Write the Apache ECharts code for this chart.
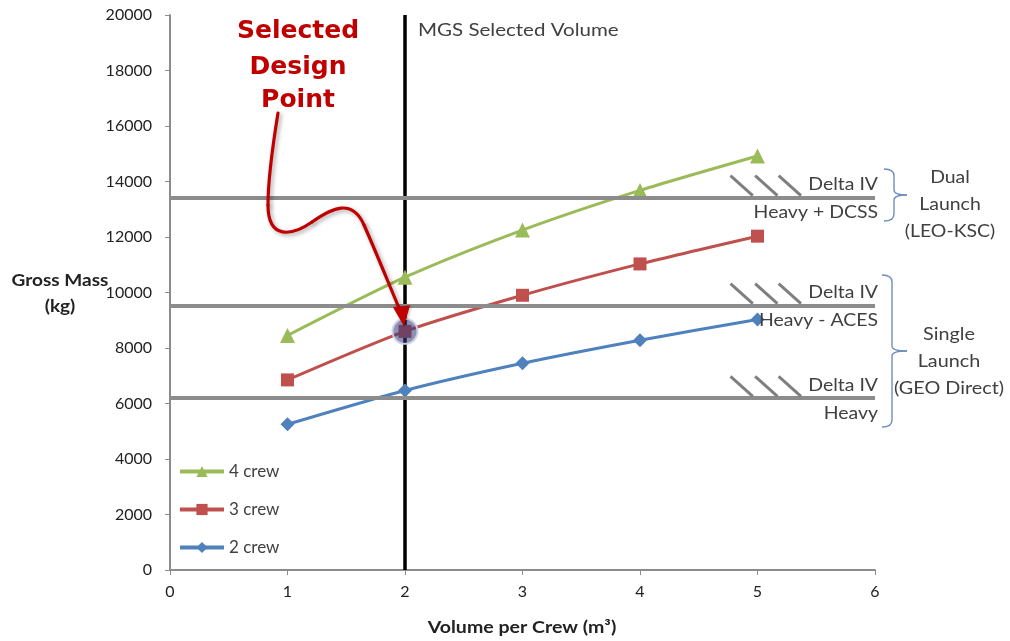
<!DOCTYPE html>
<html>
<head>
<meta charset="utf-8">
<script src="https://cdn.jsdelivr.net/npm/echarts@6/dist/echarts.min.js"></script>
<style>
  html, body { margin: 0; padding: 0; background: #fff; }
  #chart { width: 1010px; height: 641px; }
</style>
</head>
<body>
<div id="chart"></div>
<script>
// Volume per crew member (m³)
const volumes = [1, 2, 3, 4, 5];
// Gross mass (kg) per crew size
const crew4 = [8450, 10550, 12250, 13680, 14920];
const crew3 = [6850, 8600, 9900, 11030, 12030];
const crew2 = [5250, 6470, 7450, 8280, 9030];

// Launch vehicle capability limits (kg)
const limitNames = ['Heavy + DCSS', 'Heavy - ACES', 'Heavy'];
const limitValues = [13430, 9540, 6200];

// Selected design volume and point
const selectedVolume = 2;
const selectedMass = 8600;

const xTicks = [0, 1, 2, 3, 4, 5, 6];
const yMax = 20000;

const FONT = 'Lato, "Open Sans", sans-serif';
const TEXT = '#404040';
const GRAY = '#8c8c8c';

const pairs = (ys) => volumes.map((v, i) => [v, ys[i]]);

// hatch marks drawn above each limit line (data units)
const hatchStarts = [4.77, 4.98, 5.18];
const hatchDx = 0.19;
const hatchDy = 780;
const hatchData = [];
limitValues.forEach((lv) => {
  hatchStarts.forEach((hx) => {
    hatchData.push([{ coord: [hx, lv + hatchDy] }, { coord: [hx + hatchDx, lv + 60] }]);
  });
});

const chart = echarts.init(document.getElementById('chart'), null, { renderer: 'canvas' });

const option = {
  animation: false,
  grid: { left: 170, right: 135, top: 15, bottom: 71, containLabel: false },
  xAxis: {
    type: 'value', min: xTicks[0], max: xTicks[xTicks.length - 1], interval: 1,
    axisLine: { lineStyle: { color: GRAY, width: 2 } },
    axisTick: { show: true, length: 5, lineStyle: { color: GRAY } },
    axisLabel: { color: '#222', fontSize: 16, fontFamily: FONT, margin: 14 },
    splitLine: { show: false }
  },
  yAxis: {
    type: 'value', min: 0, max: yMax, interval: 2000,
    axisLine: { show: true, lineStyle: { color: GRAY, width: 2 } },
    axisTick: { show: true, length: 5, lineStyle: { color: GRAY } },
    axisLabel: { color: '#222', fontSize: 16, fontFamily: FONT, margin: 18, formatter: (v) => String(v) },
    splitLine: { show: false }
  },
  legend: {
    data: ['4 crew', '3 crew', '2 crew'],
    orient: 'vertical', left: 173, top: 458,
    itemGap: 21, itemWidth: 44, itemHeight: 14,
    lineStyle: { width: 4 },
    textStyle: { fontSize: 17, fontFamily: FONT, color: TEXT }
  },
  series: [
    {
      name: 'limits', type: 'line', data: [], silent: true, z: 1,
      markLine: {
        silent: true, symbol: ['none', 'none'], animation: false,
        label: { show: false },
        lineStyle: { color: GRAY, width: 4, type: 'solid' },
        data: limitValues.map((v) => [{ coord: [0, v] }, { coord: [6, v] }])
      }
    },
    {
      name: 'hatch', type: 'line', data: [], silent: true, z: 1,
      markLine: {
        silent: true, symbol: ['none', 'none'], animation: false,
        label: { show: false },
        lineStyle: { color: '#7f7f7f', width: 3, type: 'solid' },
        data: hatchData
      }
    },
    {
      name: 'selected', type: 'line', silent: true, z: 3,
      data: [[selectedVolume, 0], [selectedVolume, yMax]],
      symbol: 'none', lineStyle: { color: '#000', width: 3.5 }
    },
    {
      name: '4 crew', type: 'line', data: pairs(crew4), smooth: 0.25, z: 4,
      symbol: 'triangle', symbolSize: 15,
      itemStyle: { color: '#9bbb59' }, lineStyle: { color: '#9bbb59', width: 3 }
    },
    {
      name: '3 crew', type: 'line', data: pairs(crew3), smooth: 0.25, z: 4,
      symbol: 'rect', symbolSize: 13,
      itemStyle: { color: '#c0504d' }, lineStyle: { color: '#c0504d', width: 3 }
    },
    {
      name: '2 crew', type: 'line', data: pairs(crew2), smooth: 0.25, z: 4,
      symbol: 'diamond', symbolSize: 14,
      itemStyle: { color: '#4f81bd' }, lineStyle: { color: '#4f81bd', width: 3 }
    }
  ]
};
chart.setOption(option);

const px = (x, y) => chart.convertToPixel({ gridIndex: 0 }, [x, y]);

const graphics = [];
// text helper; sx widens the glyphs slightly
const txt = (x, y, text, style, sx) => graphics.push({
  type: 'text', x, y, scaleX: sx || 1, silent: true, z: 20,
  style: Object.assign({ text, font: '18px ' + FONT, fill: TEXT, textAlign: 'center', textVerticalAlign: 'middle' }, style || {})
});

// axis titles
const TITLE = { font: 'bold 17px ' + FONT, fill: '#222' };
txt(60, 281, 'Gross Mass', TITLE, 1.12);
txt(60, 307, '(kg)', TITLE, 1.12);
txt(522, 628, 'Volume per Crew (m³)', TITLE, 1.15);

// vertical marker caption
const topSel = px(selectedVolume, yMax);
txt(topSel[0] + 13, 30, 'MGS Selected Volume', { textAlign: 'left' }, 1.14);

// limit labels
limitValues.forEach((lv, i) => {
  const p = px(6, lv);
  txt(p[0] + 3, p[1] - 13, 'Delta IV', { textAlign: 'right' }, 1.08);
  txt(p[0] + 3, p[1] + 15, limitNames[i], { textAlign: 'right' }, 1.08);
});

// curly braces grouping the launch options
const BRACE = { stroke: '#6d8fbf', lineWidth: 1.4, fill: null };
function brace(xBody, yTop, yBot, tip) {
  const ym = (yTop + yBot) / 2;
  const xl = xBody - 10;
  const parts = [
    { type: 'bezierCurve', shape: { x1: xl, y1: yTop, cpx1: xBody, cpy1: yTop, x2: xBody, y2: yTop + 7 } },
    { type: 'line', shape: { x1: xBody, y1: yTop + 7, x2: xBody, y2: ym - 5 } },
    { type: 'bezierCurve', shape: { x1: xBody, y1: ym - 5, cpx1: xBody, cpy1: ym, x2: tip, y2: ym } },
    { type: 'bezierCurve', shape: { x1: tip, y1: ym, cpx1: xBody, cpy1: ym, x2: xBody, y2: ym + 5 } },
    { type: 'line', shape: { x1: xBody, y1: ym + 5, x2: xBody, y2: yBot - 7 } },
    { type: 'bezierCurve', shape: { x1: xBody, y1: yBot - 7, cpx1: xBody, cpy1: yBot, x2: xl, y2: yBot } }
  ];
  parts.forEach((p) => graphics.push(Object.assign(p, { silent: true, z: 20, style: BRACE })));
}
brace(894, 169, 221, 907);
brace(892, 275, 427, 907);

txt(950, 177, 'Dual', null, 1.08);
txt(950, 204, 'Launch', null, 1.08);
txt(950, 231, '(LEO-KSC)', null, 1.08);
txt(949, 334, 'Single', null, 1.1);
txt(949, 361, 'Launch', null, 1.1);
txt(949, 388, '(GEO Direct)', null, 1.1);

// callout text
const callout = { font: 'bold 25px "DejaVu Sans", sans-serif', fill: '#c00000' };
txt(298, 31, 'Selected', callout);
txt(298, 67, 'Design', callout);
txt(298, 100, 'Point', callout);

// highlight around the chosen design point
const sp = px(selectedVolume, selectedMass);
graphics.push({
  type: 'circle', silent: true, z: 30,
  shape: { cx: sp[0], cy: sp[1], r: 12.5 },
  style: { fill: 'rgba(45,55,120,0.55)', stroke: 'rgba(210,210,230,0.95)', lineWidth: 2 }
});

// curved arrow pointing at the design point
const tip = [sp[0] - 1, sp[1] - 5];
const ARROW = {
  stroke: '#c00000', lineWidth: 3.2, fill: null, lineCap: 'round',
  shadowBlur: 4, shadowColor: 'rgba(0,0,0,0.35)', shadowOffsetX: 2, shadowOffsetY: 2
};
const arrowCurves = [
  { x1: 278, y1: 113, cpx1: 272, cpy1: 150, cpx2: 268, cpy2: 180, x2: 268, y2: 205 },
  { x1: 268, y1: 205, cpx1: 268, cpy1: 240, cpx2: 292, cpy2: 236, x2: 312, y2: 222 },
  { x1: 312, y1: 222, cpx1: 332, cpy1: 208, cpx2: 352, cpy2: 198, x2: 364, y2: 225 },
  { x1: 364, y1: 225, cpx1: 376, cpy1: 252, cpx2: 388, cpy2: 282, x2: tip[0] - 4, y2: tip[1] - 16 }
];
arrowCurves.forEach((s) => graphics.push({ type: 'bezierCurve', silent: true, z: 31, shape: s, style: ARROW }));
graphics.push({
  type: 'polygon', silent: true, z: 31,
  shape: { points: [[tip[0] - 11, tip[1] - 19], [tip[0] + 6, tip[1] - 21], [tip[0], tip[1]]] },
  style: { fill: '#c00000', shadowBlur: 3, shadowColor: 'rgba(0,0,0,0.3)', shadowOffsetX: 1, shadowOffsetY: 1 }
});

chart.setOption({ graphic: graphics });
</script>
</body>
</html>
